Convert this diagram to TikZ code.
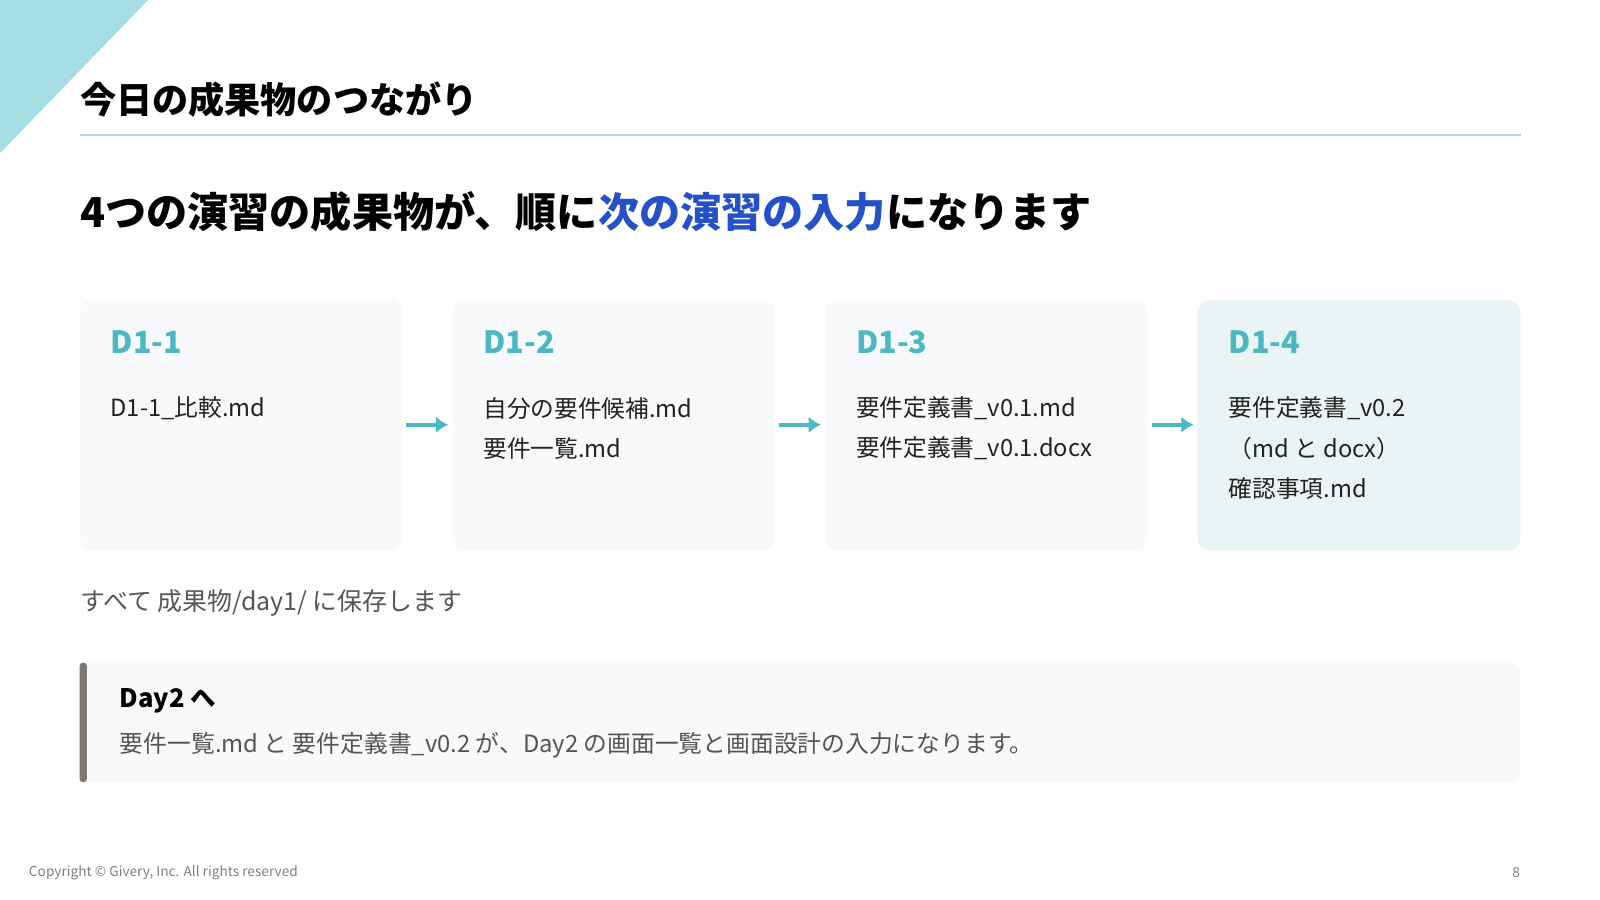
\documentclass[tikz,border=0pt]{standalone}
\usepackage{fontspec}
\usetikzlibrary{arrows.meta}
\setmainfont{Noto Sans CJK JP}
\definecolor{tri}{HTML}{A6DDE3}
\definecolor{rule}{HTML}{A8D8E8}
\definecolor{teal}{HTML}{4BB8C4}
\definecolor{hblue}{HTML}{2450C8}
\definecolor{boxbg}{HTML}{F7F9FA}
\definecolor{boxhl}{HTML}{EAF4F5}
\definecolor{bar}{HTML}{7F7770}
\definecolor{txt}{HTML}{222222}
\definecolor{gry}{HTML}{555555}
\begin{document}
\begin{tikzpicture}[x=0.5pt,y=-0.5pt,
  card/.style={fill=boxbg,rounded corners=6pt,draw=none},
  lab/.style={anchor=west,inner sep=0,text=teal,font=\fontsize{15}{18}\selectfont\bfseries},
  body/.style={anchor=west,inner sep=0,text=txt,font=\fontsize{11.6}{14}\selectfont},
  arr/.style={-{Latex[length=6pt,width=8pt]},draw=teal,line width=1.8pt}]
\useasboundingbox (0,0) rectangle (1567,881);
\fill[tri] (0,0) -- (145,0) -- (0,150) -- cycle;
\node[anchor=west,inner sep=0,font=\fontsize{17.7}{21}\selectfont\bfseries,text=black] (title) at (78,98) {今日の成果物のつながり};
\draw[rule,line width=1pt] (78,132) -- (1490,132);
\node[anchor=west,inner sep=0,font=\fontsize{20.15}{24}\selectfont\bfseries,text=black] (head) at (78,207) {4つの演習の成果物が、順に\textcolor{hblue}{次の演習の入力}になります};
\foreach \i/\x in {1/78,2/443,3/808,4/1173}{
  \path[card] (\x,294) rectangle ++(316,245);
}
\fill[boxhl,rounded corners=6pt] (1173,294) rectangle (1489,539);
\node[coordinate] (b1e) at (398,416) {};
\node[coordinate] (b2w) at (439,416) {};
\node[coordinate] (b2e) at (763,416) {};
\node[coordinate] (b3w) at (804,416) {};
\node[coordinate] (b3e) at (1128,416) {};
\node[coordinate] (b4w) at (1169,416) {};
\draw[arr] (b1e) -- (b2w);
\draw[arr] (b2e) -- (b3w);
\draw[arr] (b3e) -- (b4w);
\node[lab] (l1) at (108,335) {D1-1};
\node[lab] (l2) at (473,335) {D1-2};
\node[lab] (l3) at (838,335) {D1-3};
\node[lab] (l4) at (1203,335) {D1-4};
\node[body] (t11) at (108,400) {D1-1\_比較.md};
\node[body] (t21) at (473,400) {自分の要件候補.md};
\node[body] (t22) at (473,439) {要件一覧.md};
\node[body] (t31) at (838,400) {要件定義書\_v0.1.md};
\node[body] (t32) at (838,439) {要件定義書\_v0.1.docx};
\node[body] (t41) at (1203,400) {要件定義書\_v0.2};
\node[body] (t42) at (1203,439) {（md と docx）};
\node[body] (t43) at (1203,478) {確認事項.md};
\node[anchor=west,inner sep=0,text=gry,font=\fontsize{12.2}{14}\selectfont] (save) at (78,591) {すべて 成果物/day1/ に保存します};
\fill[boxbg,rounded corners=5pt] (78,649) rectangle (1489,766);
\fill[bar,rounded corners=1.5pt] (78,649) rectangle (85,766);
\node[anchor=west,inner sep=0,text=black,font=\fontsize{12.5}{15}\selectfont\bfseries] (d2) at (117,686) {Day2 へ};
\node[anchor=west,inner sep=0,text=gry,font=\fontsize{11.65}{14}\selectfont] (d2t) at (117,730) {要件一覧.md と 要件定義書\_v0.2 が、Day2 の画面一覧と画面設計の入力になります。};
\node[anchor=west,inner sep=0,text=gray,font=\fontsize{6.7}{8}\selectfont] (copy) at (28,855) {Copyright © Givery, Inc. All rights reserved};
\node[anchor=east,inner sep=0,text=gray,font=\fontsize{6.7}{8}\selectfont] (pg) at (1489,855) {8};
\end{tikzpicture}
\end{document}
